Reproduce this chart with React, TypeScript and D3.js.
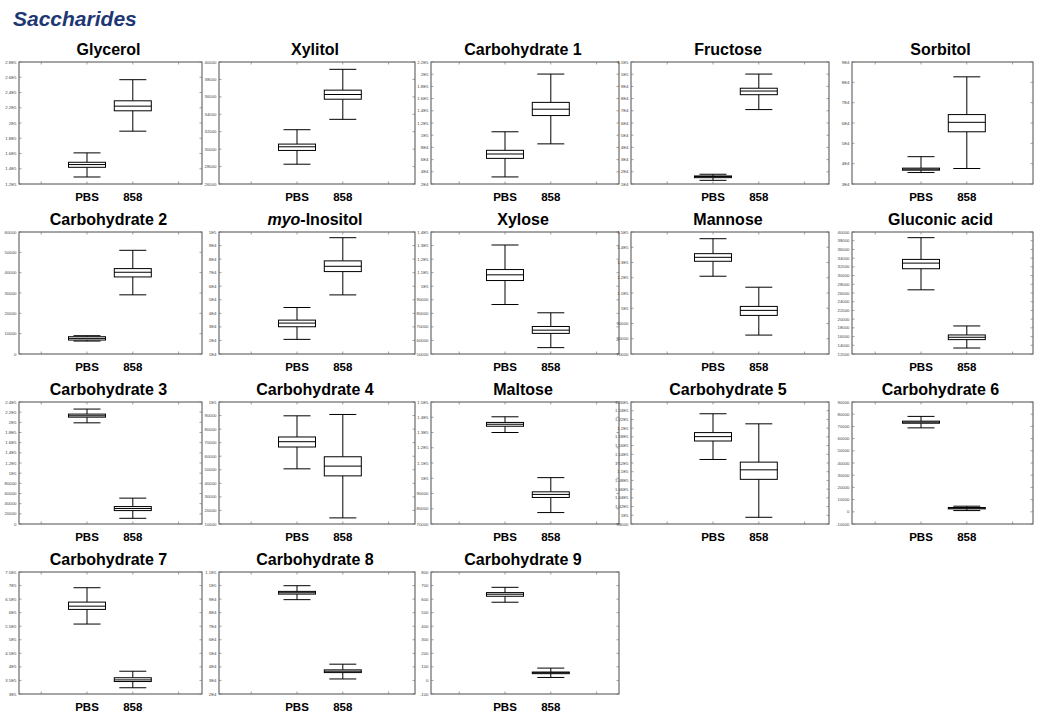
import React from "react";
import * as d3 from "d3";

const groups = ["PBS", "858"];

const titles = [
  "Glycerol", "Xylitol", "Carbohydrate 1", "Fructose", "Sorbitol",
  "Carbohydrate 2", "myo-Inositol", "Xylose", "Mannose", "Gluconic acid",
  "Carbohydrate 3", "Carbohydrate 4", "Maltose", "Carbohydrate 5", "Carbohydrate 6",
  "Carbohydrate 7", "Carbohydrate 8", "Carbohydrate 9",
];

// y tick labels, bottom to top
const tickLabels: string[][] = [
  ["1.2E5", "1.4E5", "1.6E5", "1.8E5", "2E5", "2.2E5", "2.4E5", "2.6E5", "2.8E5"],
  ["26000", "28000", "30000", "32000", "34000", "36000", "38000", "40000"],
  ["2E4", "4E4", "6E4", "8E4", "1E5", "1.2E5", "1.4E5", "1.6E5", "1.8E5", "2E5", "2.2E5"],
  ["1E4", "2E4", "3E4", "4E4", "5E4", "6E4", "7E4", "8E4", "9E4", "1E5", "1.1E5"],
  ["3E4", "4E4", "5E4", "6E4", "7E4", "8E4", "9E4"],
  ["0", "10000", "20000", "30000", "40000", "50000", "60000"],
  ["1E4", "2E4", "3E4", "4E4", "5E4", "6E4", "7E4", "8E4", "9E4", "1E5"],
  ["50000", "60000", "70000", "80000", "90000", "1E5", "1.1E5", "1.2E5", "1.3E5", "1.4E5"],
  ["70000", "80000", "90000", "1E5", "1.1E5", "1.2E5", "1.3E5", "1.4E5", "1.5E5"],
  ["12000", "14000", "16000", "18000", "20000", "22000", "24000", "26000", "28000", "30000", "32000", "34000", "36000", "38000", "40000"],
  ["0", "20000", "40000", "60000", "80000", "1E5", "1.2E5", "1.4E5", "1.6E5", "1.8E5", "2E5", "2.2E5", "2.4E5"],
  ["10000", "20000", "30000", "40000", "50000", "60000", "70000", "80000", "90000", "1E5"],
  ["70000", "80000", "90000", "1E5", "1.1E5", "1.2E5", "1.3E5", "1.4E5", "1.5E5"],
  ["98000", "1E5", "1.02E5", "1.04E5", "1.06E5", "1.08E5", "1.1E5", "1.12E5", "1.14E5", "1.16E5", "1.18E5", "1.2E5", "1.22E5", "1.24E5", "1.26E5"],
  ["-10000", "0", "10000", "20000", "30000", "40000", "50000", "60000", "70000", "80000", "90000"],
  ["3E5", "3.5E5", "4E5", "4.5E5", "5E5", "5.5E5", "6E5", "6.5E5", "7E5", "7.5E5"],
  ["2E4", "3E4", "4E4", "5E4", "6E4", "7E4", "8E4", "9E4", "1E5", "1.1E5"],
  ["-100", "0", "100", "200", "300", "400", "500", "600", "700", "800"],
];

// [min, q1, median, q3, max]
const pbsStats: number[][] = [
  [129200, 141900, 145500, 148500, 160800],
  [28270, 29850, 30270, 30580, 32230],
  [31600, 62000, 69200, 75200, 105600],
  [13000, 15200, 16100, 16600, 18000],
  [35640, 36800, 37300, 37800, 43440],
  [6370, 6860, 7680, 8500, 9000],
  [20800, 30100, 32800, 35000, 44300],
  [86500, 104200, 108400, 112300, 130400],
  [121000, 130800, 133400, 135800, 145600],
  [26730, 31570, 32860, 33710, 38700],
  [199000, 210200, 212900, 216200, 226100],
  [50700, 66800, 70700, 74200, 89800],
  [130000, 134100, 135400, 136600, 140300],
  [112810, 117050, 118050, 118980, 123300],
  [68800, 72600, 73500, 74300, 78200],
  [558000, 612000, 624000, 639000, 692000],
  [89600, 93700, 94700, 95700, 99900],
  [577, 621, 636, 648, 687],
];

const strainStats: number[][] = [
  [189300, 216000, 222100, 229100, 256800],
  [33420, 35730, 36270, 36770, 39160],
  [85800, 132200, 142600, 153800, 200200],
  [71000, 83200, 86200, 88500, 100100],
  [37620, 55680, 60340, 64140, 82700],
  [29100, 37900, 40200, 42000, 51000],
  [53600, 70800, 74700, 78700, 95800],
  [54700, 65200, 67600, 70300, 80400],
  [82400, 95300, 98600, 101200, 113800],
  [13370, 15300, 15840, 16370, 18440],
  [11200, 26400, 30400, 34300, 50900],
  [14500, 45500, 52700, 59600, 90800],
  [77500, 87400, 89400, 91100, 100400],
  [99540, 108250, 110430, 112200, 120990],
  [1000, 2400, 3000, 3500, 4600],
  [323000, 346000, 352000, 360000, 384000],
  [31100, 35800, 36800, 37800, 42000],
  [22, 50, 57, 62, 91],
];

// layout (not data)
const COL_PBS_X = [87, 297, 505, 713, 921];
const FRAME_L = [19, 219, 431, 631, 852];
const FRAME_R = [202, 415, 619, 829, 1033];
const ROW_TOP0 = 62;
const ROW_PITCH = 170;
const FRAME_H = 122;
const STEP = 45.8;
const BOX_W = 37;
const CAP_W = 27;
const FONT = "'Liberation Sans', Arial, Helvetica, sans-serif";

function BoxMark({ x, y, s }: { x: number; y: d3.ScaleLinear<number, number>; s: number[] }) {
  const [mn, q1, md, q3, mx] = s;
  const hb = BOX_W / 2;
  const hc = CAP_W / 2;
  return (
    <g stroke="#000" strokeWidth={1} fill="none">
      <line x1={x} x2={x} y1={y(mx)} y2={y(q3)} />
      <line x1={x} x2={x} y1={y(q1)} y2={y(mn)} />
      <line x1={x - hc} x2={x + hc} y1={y(mx)} y2={y(mx)} />
      <line x1={x - hc} x2={x + hc} y1={y(mn)} y2={y(mn)} />
      <rect x={x - hb} y={y(q3)} width={BOX_W} height={Math.max(0.5, y(q1) - y(q3))} fill="#fff" />
      <line x1={x - hb} x2={x + hb} y1={y(md)} y2={y(md)} />
    </g>
  );
}

function Panel({ i }: { i: number }) {
  const col = i % 5;
  const row = Math.floor(i / 5);
  const L = FRAME_L[col];
  const R = FRAME_R[col];
  const T = ROW_TOP0 + row * ROW_PITCH;
  const B = T + FRAME_H;
  const ticks = tickLabels[i].map((t) => ({ label: t, value: Number(t) }));
  const y = d3
    .scaleLinear()
    .domain(d3.extent(ticks, (d) => d.value) as [number, number])
    .range([B, T]);
  const px = COL_PBS_X[col];
  const x = d3.scaleLinear().domain([1, 4]).range([px - STEP, px + 2 * STEP]);
  const title = titles[i];
  const cx = (L + R) / 2 - 2;
  const xTicks = [1, 2, 3, 4];
  return (
    <g>
      <text x={cx} y={T - 7} textAnchor="middle" fontFamily={FONT} fontWeight="bold" fontSize={16} fill="#000">
        {title.startsWith("myo") ? (
          <>
            <tspan fontStyle="italic">myo</tspan>
            <tspan>{title.slice(3)}</tspan>
          </>
        ) : (
          title
        )}
      </text>
      <rect x={L} y={T} width={R - L} height={FRAME_H} fill="#fff" stroke="#4d4d4d" strokeWidth={1} />
      {ticks.map((t) => (
        <g key={t.label}>
          <line x1={L} x2={L + 2.5} y1={y(t.value)} y2={y(t.value)} stroke="#777" strokeWidth={0.7} />
          <line x1={R - 2.5} x2={R} y1={y(t.value)} y2={y(t.value)} stroke="#777" strokeWidth={0.7} />
          <text x={L - 2.5} y={y(t.value)} dy="0.35em" textAnchor="end" fontFamily={FONT} fontSize={4.3} fill="#444">
            {t.label}
          </text>
        </g>
      ))}
      {xTicks.map((v) => (
        <g key={v}>
          <line x1={x(v)} x2={x(v)} y1={T} y2={T + 2.5} stroke="#777" strokeWidth={0.7} />
          <line x1={x(v)} x2={x(v)} y1={B - 2.5} y2={B} stroke="#777" strokeWidth={0.7} />
        </g>
      ))}
      <BoxMark x={x(2)} y={y} s={pbsStats[i]} />
      <BoxMark x={x(3)} y={y} s={strainStats[i]} />
      {groups.map((g, k) => (
        <text key={g} x={x(2 + k)} y={B + 17} textAnchor="middle" fontFamily={FONT} fontWeight="bold" fontSize={11.5} fill="#000">
          {g}
        </text>
      ))}
    </g>
  );
}

export default function App() {
  return (
    <svg
      width={1040}
      height={720}
      style={{ position: "absolute", left: 0, top: 0, background: "#fff" }}
      xmlns="http://www.w3.org/2000/svg"
    >
      <rect x={0} y={0} width={1040} height={720} fill="#fff" />
      <text x={13} y={26} fontFamily={FONT} fontWeight="bold" fontStyle="italic" fontSize={21} fill="#1c3773">
        Saccharides
      </text>
      {titles.map((_, i) => (
        <Panel key={i} i={i} />
      ))}
    </svg>
  );
}
